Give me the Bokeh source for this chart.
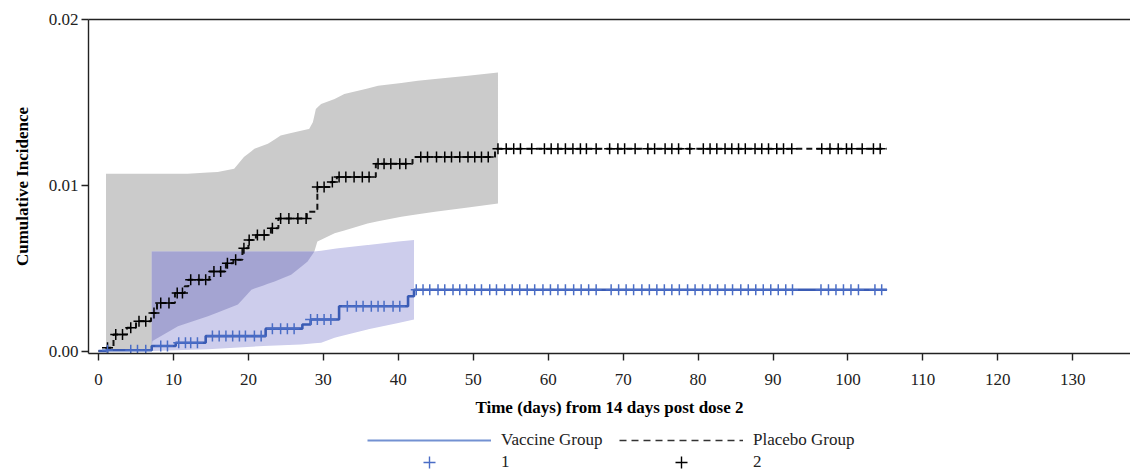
import numpy as np
from bokeh.plotting import figure
from bokeh.layouts import column
from bokeh.models import (Legend, LegendItem, LinearAxis, FixedTicker,
                          PrintfTickFormatter, Range1d)
from bokeh.embed import file_html
from bokeh.resources import INLINE

# ---------------- data ----------------
x_ticks = [0, 10, 20, 30, 40, 50, 60, 70, 80, 90, 100, 110, 120, 130]
y_ticks = [0.0, 0.01, 0.02]

# Vaccine group step curve (day, cumulative incidence)
vac_days = [0, 1.0, 7.1, 10.3, 14.3, 22.3, 27.2, 28.3, 32.1, 41.3, 42.1, 105.2]
vac_cum = [0, 0.00005, 0.0003, 0.0005, 0.0009, 0.00135, 0.0016, 0.0019,
           0.0027, 0.0033, 0.0037, 0.0037]
# Vaccine censoring times
vac_cens = [1.2, 4.3, 5.2, 6.3, 8.3, 9.2, 10.7, 11.6, 12.3, 13.2, 15.2, 16.1,
            17.0, 17.9, 18.8, 19.6, 20.8, 21.7, 23.2, 24.3, 25.2, 26.1, 28.3,
            29.2, 30.1, 31.0, 33.2, 34.4, 35.3, 36.4, 37.3, 38.1, 39.3, 40.2,
            42.4, 43.3, 44.2, 45.3, 46.2, 47.3, 48.2, 49.1, 50.2, 51.1, 52.2,
            53.1, 54.2, 55.2, 56.2, 57.2, 58.2, 59.3, 60.3, 61.3, 62.3, 63.4,
            64.4, 65.4, 66.4, 68.4, 69.4, 70.4, 71.4, 72.5, 73.5, 74.5, 75.5,
            76.5, 77.5, 78.6, 79.6, 80.6, 81.6, 82.6, 83.6, 84.6, 85.7, 86.7,
            87.7, 88.7, 89.7, 90.7, 91.7, 92.6, 96.4, 97.4, 98.4, 99.4, 100.4,
            101.4, 103.6, 104.5]

# Placebo group step curve
pla_days = [0, 1.0, 2.0, 3.8, 5.0, 7.0, 7.8, 10.2, 11.5, 12.0, 14.8, 17.0,
            18.0, 19.2, 20.0, 21.0, 23.0, 24.0, 27.8, 29.2, 31.0, 31.8, 37.0,
            41.9, 52.9, 105.2]
pla_cum = [0, 0.0002, 0.0010, 0.0014, 0.0018, 0.0023, 0.0029, 0.0035, 0.0039,
           0.0043, 0.0048, 0.0053, 0.0055, 0.0062, 0.0067, 0.0070, 0.0074,
           0.0080, 0.0084, 0.0099, 0.0102, 0.0105, 0.0113, 0.0117, 0.0122,
           0.0122]
# Placebo censoring times
pla_cens = [1.2, 2.3, 3.2, 4.3, 5.4, 6.3, 7.4, 8.3, 9.4, 10.5, 11.2, 12.3,
            13.4, 14.3, 15.4, 16.3, 17.2, 18.3, 19.4, 20.1, 21.2, 22.1, 23.2,
            24.3, 25.4, 26.6, 27.7, 29.2, 30.1, 31.2, 32.1, 33.0, 34.1, 35.2,
            36.1, 37.3, 38.1, 39.0, 40.2, 41.0, 43.0, 43.9, 45.1, 46.2, 47.1,
            48.2, 49.3, 50.2, 51.1, 52.0, 53.3, 54.4, 55.4, 56.3, 57.8, 59.5,
            60.4, 61.3, 62.3, 63.3, 64.3, 65.1, 66.4, 68.2, 69.3, 70.2, 71.6,
            73.3, 74.2, 75.6, 76.5, 77.4, 78.9, 80.7, 81.6, 82.5, 83.6, 84.5,
            85.4, 86.3, 87.6, 88.5, 89.4, 90.5, 91.4, 92.5, 96.5, 97.6, 98.7,
            99.8, 100.5, 101.9, 103.4, 104.3]

# Placebo 95% band
pla_up_days = [1.0, 11.9, 15.9, 18.1, 19.4, 20.8, 22.6, 24.3, 28.1, 28.6,
               29.0, 29.7, 31.5, 32.8, 37.3, 42.6, 49.3, 53.3]
pla_up = [0.0107, 0.0107, 0.0108, 0.0110, 0.0117, 0.0122, 0.0125, 0.0130,
          0.0134, 0.0138, 0.0146, 0.0149, 0.0152, 0.0155, 0.0160, 0.0163,
          0.0166, 0.0168]
pla_lo_days = [1.0, 7.0, 7.2, 10.6, 14.6, 18.6, 20.4, 23.5, 25.7, 27.9, 28.8,
               29.2, 31.5, 35.9, 40.4, 44.9, 53.3]
pla_lo = [0.0, 0.0, 0.0006, 0.0015, 0.0021, 0.0028, 0.0037, 0.0042, 0.0046,
          0.0054, 0.0060, 0.0066, 0.0071, 0.0077, 0.0081, 0.0084, 0.0089]

# Vaccine 95% band
vac_up_days = [7.1, 28.8, 32.0, 36.0, 40.0, 42.1]
vac_up = [0.0060, 0.0060, 0.0062, 0.0064, 0.0066, 0.0067]
vac_lo_days = [7.1, 14.6, 22.0, 27.0, 29.7, 31.5, 35.9, 42.1]
vac_lo = [0.0, 0.0001, 0.0003, 0.0004, 0.0005, 0.0008, 0.0013, 0.0019]

legend_lines = ["Vaccine Group", "Placebo Group"]
legend_marks = ["1", "2"]

# ---------------- styling ----------------
SERIF = "Liberation Serif"
BLUE_LINE = "#3a5bb4"
BLUE_MARK = "#4a6dc6"
BLUE_LEG = "#7391d2"
GRAY_BAND = "#cbcbcb"
BLUE_BAND = "#cdcdec"
OVERLAP = "#a4a4d2"
W = 1130


def band(days_u, up, days_l, lo):
    grid = np.union1d(days_u, days_l)
    return grid, np.interp(grid, days_l, lo), np.interp(grid, days_u, up)


def step_value(days, cum, t):
    idx = np.searchsorted(np.asarray(days), np.asarray(t), side="right") - 1
    return np.asarray(cum)[idx]


p = figure(width=W, height=427, output_backend="svg", toolbar_location=None,
           x_range=Range1d(-1.337, 137.7), y_range=Range1d(-0.00015, 0.02),
           min_border_left=88, min_border_top=19, min_border_right=0,
           min_border_bottom=74)
p.outline_line_color = None
p.xgrid.grid_line_color = None
p.ygrid.grid_line_color = None

# bands
gx, gl, gu = band(pla_up_days, pla_up, pla_lo_days, pla_lo)
p.varea(x=gx, y1=gl, y2=gu, fill_color=GRAY_BAND)
bx, bl, bu = band(vac_up_days, vac_up, vac_lo_days, vac_lo)
p.varea(x=bx, y1=bl, y2=bu, fill_color=BLUE_BAND)
ox = np.union1d(gx, bx)
ox = ox[(ox >= bx[0]) & (ox <= bx[-1])]
olo = np.maximum(np.interp(ox, pla_lo_days, pla_lo), np.interp(ox, vac_lo_days, vac_lo))
ohi = np.minimum(np.interp(ox, pla_up_days, pla_up), np.interp(ox, vac_up_days, vac_up))
ohi = np.maximum(ohi, olo)
p.varea(x=ox, y1=olo, y2=ohi, fill_color=OVERLAP)

# placebo curve
p.step(x=pla_days, y=pla_cum, mode="after", line_color="#111111",
       line_width=2, line_dash="6 4")
p.scatter(x=pla_cens, y=step_value(pla_days, pla_cum, pla_cens),
          marker="cross", size=11, line_color="black", line_width=1.5)

# vaccine curve
p.step(x=vac_days, y=vac_cum, mode="after", line_color=BLUE_LINE, line_width=2.6)
p.scatter(x=vac_cens, y=step_value(vac_days, vac_cum, vac_cens),
          marker="cross", size=11, line_color=BLUE_MARK, line_width=1.5)

# axes
for ax in (p.xaxis[0], p.yaxis[0]):
    ax.axis_line_color = "#222222"
    ax.axis_line_width = 1.4
    ax.major_tick_line_color = "#222222"
    ax.major_tick_line_width = 1.4
    ax.major_tick_in = 0
    ax.major_tick_out = 7
    ax.minor_tick_line_color = None
    ax.major_label_text_font = SERIF
    ax.major_label_text_font_size = "17px"
    ax.major_label_text_color = "#222222"
    ax.axis_label_text_font = SERIF
    ax.axis_label_text_font_size = "17px"
    ax.axis_label_text_font_style = "bold"
    ax.axis_label_text_color = "black"

p.xaxis.ticker = FixedTicker(ticks=x_ticks)
p.yaxis.ticker = FixedTicker(ticks=y_ticks)
p.yaxis.formatter = PrintfTickFormatter(format="%.2f")
p.xaxis.axis_label = "Time (days) from 14 days post dose 2"
p.yaxis.axis_label = "Cumulative Incidence"
p.xaxis.major_label_standoff = 13
p.xaxis.axis_label_standoff = 10
p.yaxis.major_label_standoff = 3
p.yaxis.axis_label_standoff = 14

top = LinearAxis(ticker=FixedTicker(ticks=[]), major_tick_out=0, major_tick_in=0,
                 major_label_text_font_size="0px", major_label_standoff=0,
                 axis_line_color="#222222", axis_line_width=1.4,
                 minor_tick_line_color=None)
p.add_layout(top, "above")

# ---------------- legend strip below the chart ----------------
lf = figure(width=W, height=48, output_backend="svg", toolbar_location=None,
            x_axis_location=None, y_axis_location=None,
            x_range=Range1d(0, 1), y_range=Range1d(0, 1),
            min_border=0)
lf.outline_line_color = None
lf.xgrid.grid_line_color = None
lf.ygrid.grid_line_color = None

# legend sample glyphs (same data, not drawn in this strip)
s_vac = lf.line(x=vac_days, y=vac_cum, line_color=BLUE_LEG, line_width=2, visible=False)
s_pla = lf.line(x=pla_days, y=pla_cum, line_color="#333333", line_width=1.6,
                line_dash="7 5", visible=False)
m_vac = lf.scatter(x=vac_cens, y=step_value(vac_days, vac_cum, vac_cens),
                   marker="cross", line_color=BLUE_MARK, line_width=1.4, visible=False)
m_pla = lf.scatter(x=pla_cens, y=step_value(pla_days, pla_cum, pla_cens),
                   marker="cross", line_color="black", line_width=1.4, visible=False)

common = dict(orientation="horizontal", glyph_width=124, label_width=104,
              label_standoff=10, spacing=14, padding=0, margin=0,
              border_line_color=None, background_fill_alpha=0,
              inactive_fill_alpha=0,
              label_text_font=SERIF, label_text_font_size="17px",
              label_text_color="#222222")
leg1 = Legend(items=[LegendItem(label=legend_lines[0], renderers=[s_vac]),
                     LegendItem(label=legend_lines[1], renderers=[s_pla])],
              glyph_height=18, label_height=18, location=(279, 25), **common)
leg2 = Legend(items=[LegendItem(label=legend_marks[0], renderers=[m_vac]),
                     LegendItem(label=legend_marks[1], renderers=[m_pla])],
              glyph_height=30, label_height=18, location=(279, -2), **common)
lf.add_layout(leg1, "center")
lf.add_layout(leg2, "center")

open("out.html", "w").write(file_html(column(p, lf, spacing=0), INLINE))
